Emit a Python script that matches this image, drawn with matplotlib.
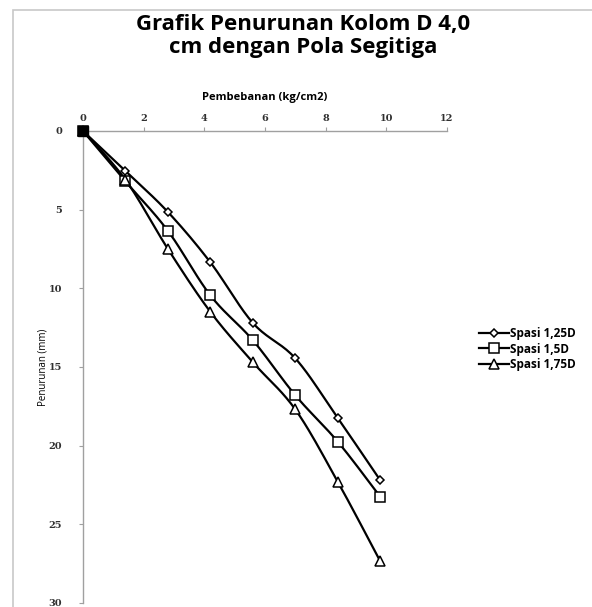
import numpy as np
import matplotlib
matplotlib.use("Agg")
import matplotlib.pyplot as plt
from matplotlib.patches import Rectangle

# data
beban = [0, 1.4, 2.8, 4.2, 5.6, 7.0, 8.4, 9.8]
spasi_125 = [0, 2.55, 5.15, 8.35, 12.2, 14.45, 18.25, 22.2]
spasi_15 = [0, 3.2, 6.35, 10.45, 13.3, 16.8, 19.75, 23.25]
spasi_175 = [0, 3.1, 7.5, 11.5, 14.7, 17.7, 22.3, 27.35]
labels = ["Spasi 1,25D", "Spasi 1,5D", "Spasi 1,75D"]
x_ticks = [0, 2, 4, 6, 8, 10, 12]
y_ticks = [0, 5, 10, 15, 20, 25, 30]


def smooth(x, y, n=20):
    """
    catmull-rom curve through the points, like the excel smoothed line

    Args:
        x (list): x values
        y (list): y values
        n (int): samples per segment
    """
    p = np.column_stack([x, y]).astype(float)
    p = np.vstack([p[0], p, p[-1]])
    out = []
    for i in range(1, len(p) - 2):
        p0, p1, p2, p3 = p[i - 1], p[i], p[i + 1], p[i + 2]
        t = np.linspace(0, 1, n)[:, None]
        seg = 0.5 * ((2 * p1) + (-p0 + p2) * t
                     + (2 * p0 - 5 * p1 + 4 * p2 - p3) * t ** 2
                     + (-p0 + 3 * p1 - 3 * p2 + p3) * t ** 3)
        out.append(seg)
    out = np.vstack(out)
    return out[:, 0], out[:, 1]


fig = plt.figure(figsize=(5.92, 6.07), dpi=100)

# chart border (clipped at right and bottom like the screenshot)
fig.patches.append(Rectangle((13 / 592, -0.05), 1.0, 1 - 10 / 607 + 0.05,
                             transform=fig.transFigure, fill=False,
                             edgecolor="#c8c8c8", linewidth=1.2))

ax = fig.add_axes([83 / 592, 1 - 603 / 607, 364 / 592, 472 / 607])

series = [spasi_125, spasi_15, spasi_175]
markers = ["D", "s", "^"]
msizes = [4.5, 7, 6.5]
for vals, m, ms, lab in zip(series, markers, msizes, labels):
    sx, sy = smooth(beban, vals)
    ax.plot(sx, sy, color="black", linewidth=1.6, clip_on=False)
    ax.plot(beban, vals, linestyle="none", marker=m, markersize=ms,
            markerfacecolor="white", markeredgecolor="black",
            markeredgewidth=1.1, clip_on=False, zorder=3)
    ax.plot([], [], color="black", linewidth=1.6, marker=m, markersize=ms,
            markerfacecolor="white", markeredgecolor="black",
            markeredgewidth=1.1, label=lab)

# the three markers pile up at the origin and look solid black
ax.plot(beban[0], spasi_15[0], marker="s", markersize=7, color="black",
        clip_on=False, zorder=4)

ax.set_xlim(0, 12)
ax.set_ylim(30, 0)
ax.set_xticks(x_ticks)
ax.set_yticks(y_ticks)
ax.xaxis.set_ticks_position("top")
ax.xaxis.set_label_position("top")

for s in ["right", "bottom"]:
    ax.spines[s].set_visible(False)
for s in ["left", "top"]:
    ax.spines[s].set_color("#a0a0a0")
    ax.spines[s].set_linewidth(1.0)

ax.tick_params(axis="both", direction="out", length=3, color="#a0a0a0",
               labelcolor="#303030")
for lbl in ax.get_xticklabels() + ax.get_yticklabels():
    lbl.set_fontfamily("DejaVu Serif")
    lbl.set_fontweight("bold")
    lbl.set_fontsize(7)
ax.tick_params(axis="x", pad=2.5)
ax.tick_params(axis="y", pad=12)

ax.set_xlabel("Pembebanan (kg/cm2)", fontsize=8, fontweight="bold",
              family="Open Sans", labelpad=10)
ax.set_ylabel("Penurunan (mm)", fontsize=7, family="Open Sans", labelpad=0)

fig.text(303 / 592, 1 - 36 / 607, "Grafik Penurunan Kolom D 4,0\ncm dengan Pola Segitiga",
         ha="center", va="center", fontsize=16, fontweight="bold",
         family="Open Sans", linespacing=1.1)

leg = ax.legend(loc="center left", bbox_to_anchor=(468 / 592, 1 - 349 / 607),
                bbox_transform=fig.transFigure, frameon=False,
                prop=dict(family="Open Sans", weight="bold", size=8.5),
                handlelength=2.6, handletextpad=0.1, labelspacing=0.2)

fig.savefig("out.png", dpi=100)
